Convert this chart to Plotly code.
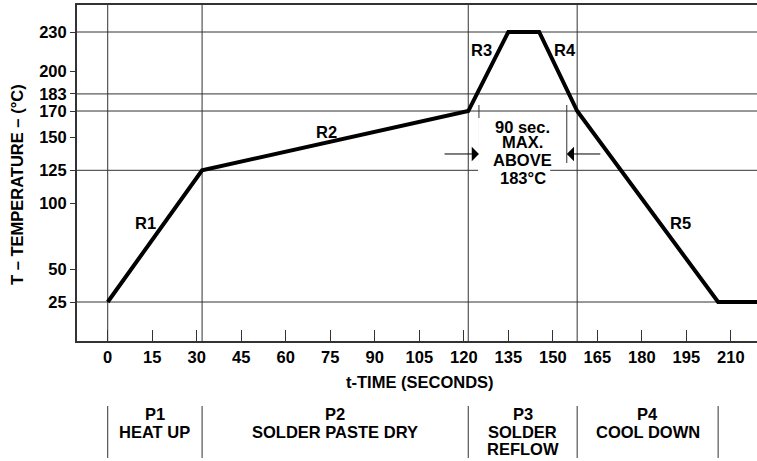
import plotly.graph_objects as go

# ---- data ----
profile_t = [0, 31.8, 121.5, 135, 145.4, 158.2, 205.7, 220]
profile_T = [25, 125, 170, 230, 230, 170, 25, 25]

x_ticks = [0, 15, 30, 45, 60, 75, 90, 105, 120, 135, 150, 165, 180, 195, 210]
y_ticks = [25, 50, 100, 125, 150, 170, 183, 200, 230]
grid_T = [25, 125, 170, 183, 230]
grid_t = [0, 31.8, 121.5, 158.2]
phase_bounds = [0, 31.8, 121.5, 158.2, 205.7]
phase_lines = [["P1", "HEAT UP"], ["P2", "SOLDER PASTE DRY"],
               ["P3", "SOLDER", "REFLOW"], ["P4", "COOL DOWN"]]

seg_labels = ["R1", "R2", "R3", "R4", "R5"]
seg_label_t = [12.6, 73.8, 126, 154.1, 192.9]
seg_label_T = [85, 154.3, 216, 216, 84.8]

window_t = [125.1, 154.7]          # the 90 s window marks
window_T = [130.5, 174.6]
arrow_T = 137.4
arrow_tail_t = [113, 166.5]
note_t = 139.8
note_lines = ["90 sec.", "MAX.", "ABOVE", "183°C"]
note_line_T = [158.1, 146.7, 132.8, 119.4]
note_gap_t = [124.8, 149.1]
note_gap_T = [113.8, 164.7]

FONT = "Liberation Sans, Arial, sans-serif"
FS = 16.5
W, H = 757, 461
ML, MR, MT, MB = 77, 0, 5, 120
ph = H - MT - MB


def py(px):  # pixel y -> paper y
    return (H - MB - px) / ph


def pxx(px):  # pixel x -> paper x
    return (px - ML) / (W - ML - MR)


def bold(size=FS):
    return dict(family=FONT, size=size, color="black", weight="bold")


fig = go.Figure()
fig.add_trace(go.Scatter(x=profile_t, y=profile_T, mode="lines",
                         line=dict(color="black", width=4), hoverinfo="skip",
                         showlegend=False))

shapes = []
for T in grid_T:
    shapes.append(dict(type="line", xref="paper", yref="y", x0=0, x1=1, y0=T, y1=T,
                       line=dict(color="#333", width=1), layer="below"))
for t in grid_t:
    shapes.append(dict(type="line", xref="x", yref="paper", x0=t, x1=t, y0=0, y1=1,
                       line=dict(color="#333", width=1), layer="below"))
for t in phase_bounds:
    shapes.append(dict(type="line", xref="x", yref="paper", x0=t, x1=t,
                       y0=py(406), y1=py(458), line=dict(color="#333", width=1)))
for t in window_t:
    shapes.append(dict(type="line", xref="x", yref="y", x0=t, x1=t,
                       y0=window_T[0], y1=window_T[1], line=dict(color="#333", width=1)))
shapes.append(dict(type="rect", xref="x", yref="y", x0=note_gap_t[0], x1=note_gap_t[1],
                   y0=note_gap_T[0], y1=note_gap_T[1], fillcolor="white",
                   line=dict(width=0), layer="above"))

ann = []
for lab, t, T in zip(seg_labels, seg_label_t, seg_label_T):
    ann.append(dict(x=t, y=T, xref="x", yref="y", text=lab, showarrow=False,
                    font=bold()))
for tip, tail in zip(window_t, arrow_tail_t):
    ann.append(dict(x=tip, y=arrow_T, ax=tail, ay=arrow_T, xref="x", yref="y",
                    axref="x", ayref="y", text="", showarrow=True,
                    arrowhead=1, arrowsize=2.4, arrowwidth=1, arrowcolor="black"))
for line, T in zip(note_lines, note_line_T):
    ann.append(dict(x=note_t, y=T, xref="x", yref="y", text=line,
                    showarrow=False, font=bold()))
for i, lines in enumerate(phase_lines):
    mid = (phase_bounds[i] + phase_bounds[i + 1]) / 2
    for k, line in enumerate(lines):
        ann.append(dict(x=mid, y=py(414 + 17.5 * k), xref="x", yref="paper", text=line,
                        showarrow=False, yanchor="middle", xanchor="center",
                        font=bold()))
ann.append(dict(x=pxx(420), y=py(382), xref="paper", yref="paper",
                text="t-TIME (SECONDS)", showarrow=False,
                xanchor="center", yanchor="middle", font=bold()))
ann.append(dict(x=pxx(17), y=py(185), xref="paper", yref="paper",
                text="T – TEMPERATURE – (°C)", textangle=-90, showarrow=False,
                xanchor="center", yanchor="middle", font=bold()))

fig.update_layout(
    width=W, height=H,
    margin=dict(l=ML, r=MR, t=MT, b=MB, autoexpand=False),
    paper_bgcolor="white", plot_bgcolor="white",
    shapes=shapes, annotations=ann,
    xaxis=dict(range=[-10.35, 218.8], tickvals=x_ticks, ticks="inside", ticklen=11,
               tickcolor="#333", showgrid=False, zeroline=False, automargin=False,
               showline=True, linecolor="#333", linewidth=2, mirror=True,
               tickfont=bold()),
    yaxis=dict(range=[-4.6, 250.5], tickvals=y_ticks, ticks="outside", ticklen=5,
               tickcolor="#333", showgrid=False, zeroline=False, automargin=False,
               showline=True, linecolor="#333", linewidth=2,
               tickfont=bold()),
)

fig.write_html("out.html", config={"displayModeBar": False},
               post_script="document.body.style.margin='0';"
                           "document.body.style.overflow='hidden';")
